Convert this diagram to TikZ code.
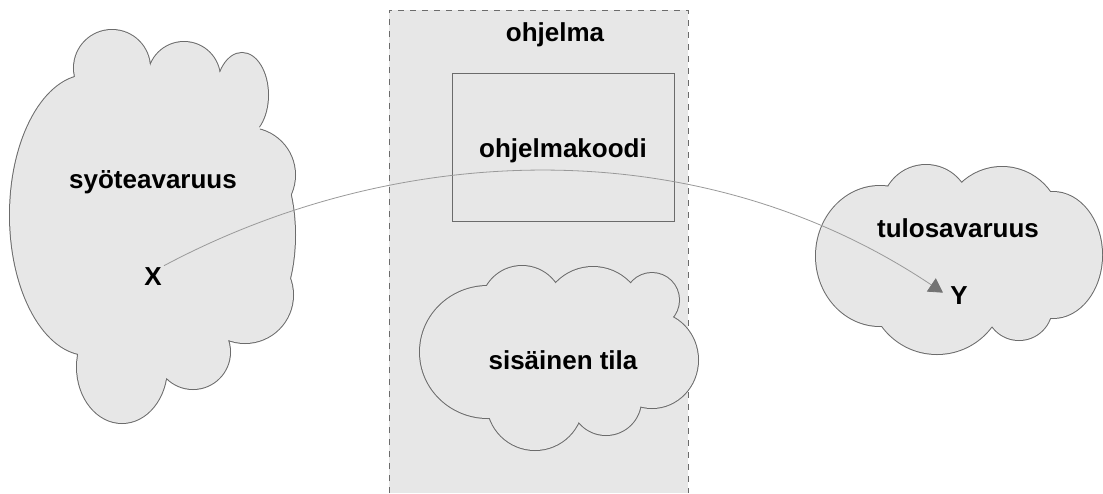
\documentclass[tikz,border=0pt]{standalone}
\usepackage{fontspec}
\setmainfont{Liberation Sans}
\usetikzlibrary{arrows.meta}
\definecolor{paper}{gray}{0.905}
\definecolor{rim}{gray}{0.42}
\definecolor{wire}{gray}{0.6}
\definecolor{tipgray}{gray}{0.45}
\tikzset{
  rimline/.style={draw=rim, line width=1pt},
  lbl/.style={font=\fontsize{13}{15}\selectfont\bfseries, inner sep=1pt},
  program/.style={draw=rim, dashed, line width=0.5pt},
  codebox/.style={draw=rim, line width=0.5pt}
}
% each cloud is a union of round puffs; the outline is stroked first and the
% fill laid over it, so only the outer edge of the union stays visible
\def\inpuffs{
  (112,68) circle[radius=19pt]
  (184,78) circle[radius=18pt]
  (242,95) ellipse[x radius=13pt, y radius=21pt]
  (248,175) circle[radius=23.5pt]
  (245,235) ellipse[x radius=25pt, y radius=50pt]
  (245,295) circle[radius=24pt]
  (193,352) circle[radius=18.5pt]
  (122,367) ellipse[x radius=22.5pt, y radius=28pt]
  (88,215) ellipse[x radius=39pt, y radius=70pt]}
\def\incore{(82,84) -- (148,78) -- (220,73) -- (260,128) -- (225,335) -- (165,368) -- (82,350) -- cycle}
\def\statepuffs{
  (522,307) circle[radius=20.5pt]
  (593,318) circle[radius=25.5pt]
  (652,300) circle[radius=13.5pt]
  (652,360) ellipse[x radius=23pt, y radius=24pt]
  (606,400) circle[radius=17.5pt]
  (535,402) circle[radius=24pt]
  (488,352) ellipse[x radius=34pt, y radius=33pt]}
\def\statecore{(490,292) -- (557,290) -- (628,287) -- (670,316) -- (635,400) -- (575,420) -- (492,413) -- cycle}
\def\outpuffs{
  (926,209) circle[radius=22pt]
  (1002,226) circle[radius=29.5pt]
  (1053,255) ellipse[x radius=24.5pt, y radius=31.5pt]
  (1019,307) circle[radius=16.5pt]
  (937,286) circle[radius=34pt]
  (880,256) ellipse[x radius=32pt, y radius=35pt]}
\def\outcore{(892,192) -- (962,186) -- (1040,190) -- (1048,310) -- (990,327) -- (885,320) -- cycle}
\begin{document}
\begin{tikzpicture}[x=0.5pt, y=-0.5pt]
  \useasboundingbox (0,0) rectangle (1103,493);
  \fill[white] (0,0) rectangle (1103,493);

  % program area
  \fill[paper] (389,10) rectangle (688,493);
  \draw[program] (389,493) -- (389,10) -- (688,10) -- (688,493);
  \node[lbl] (prog) at (555,35) {ohjelma};
  \node[codebox, minimum width=111pt, minimum height=74pt] (code) at (563,147) {};
  \node[lbl] (codetxt) at (563,151) {ohjelmakoodi};

  % input space
  \path[rimline] \inpuffs;
  \fill[paper] \inpuffs;
  \fill[paper] \incore;

  % internal state
  \path[rimline] \statepuffs;
  \fill[paper] \statepuffs;
  \fill[paper] \statecore;

  % output space
  \path[rimline] \outpuffs;
  \fill[paper] \outpuffs;
  \fill[paper] \outcore;

  \node[lbl] (intxt) at (153,182) {syöteavaruus};
  \node[lbl] (statetxt) at (563,360) {sisäinen tila};
  \node[lbl] (outtxt) at (958,228) {tulosavaruus};
  \node[lbl] (X) at (153,277) {X};
  \node[lbl] (Y) at (959,296) {Y};

  % mapping from X to Y
  \draw[wire, line width=0.4pt, -{Triangle[length=7pt,width=8pt,fill=tipgray,color=tipgray]}, shorten >=3pt]
    (X.north east) .. controls (400,140) and (700,130) .. (Y.west);
\end{tikzpicture}
\end{document}
